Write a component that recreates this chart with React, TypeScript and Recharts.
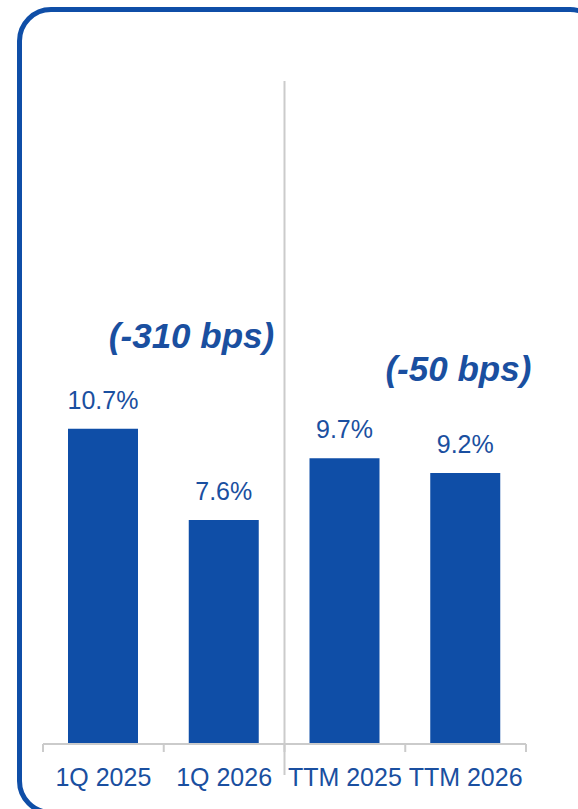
import { BarChart, Bar, XAxis, YAxis, LabelList, ReferenceLine, ReferenceDot, Label } from 'recharts';

const categories = ['1Q 2025', '1Q 2026', 'TTM 2025', 'TTM 2026'];
const margins = [10.7, 7.6, 9.7, 9.2];
const changeLabels = ['(-310 bps)', '(-50 bps)'];
// where the change notes sit, in chart units (band index, percent)
const changeX = [1.23, 3.44];
const changeY = [13.85, 12.75];
const groupEdges = [0, 1, 2, 3, 4];

const data = categories.map((name, i) => ({ name, pos: i + 0.5, value: margins[i] }));

const BLUE = '#0F4EA7';
const TEXT_BLUE = '#1A4FA0';
const GRAY = '#CBCBCB';
const FONT = '"Liberation Sans", Arial, sans-serif';

export default function App() {
  return (
    <div style={{ position: 'absolute', left: 0, top: 0, width: 578, height: 809, overflow: 'hidden', background: '#fff' }}>
      <div
        style={{
          position: 'absolute',
          left: 17,
          top: 7,
          width: 587,
          height: 808,
          boxSizing: 'border-box',
          border: `5px solid ${BLUE}`,
          borderRadius: 34,
        }}
      />
      <div style={{ position: 'absolute', left: 0, top: 0 }}>
        <BarChart width={578} height={809} data={data} margin={{ top: 81, right: 52, left: 43, bottom: 24 }}>
          <XAxis
            xAxisId="bounds"
            dataKey="pos"
            type="number"
            domain={[0, 4]}
            allowDataOverflow
            ticks={groupEdges}
            height={1}
            tickSize={8}
            stroke={GRAY}
            axisLine={{ stroke: GRAY, strokeWidth: 2 }}
            tickLine={{ stroke: GRAY, strokeWidth: 2 }}
            tickFormatter={() => ''}
          />
          <XAxis
            xAxisId="cat"
            dataKey="name"
            height={40}
            axisLine={false}
            tickLine={false}
            tickSize={8}
            tickMargin={15}
            tick={{ fill: TEXT_BLUE, fontSize: 25, fontFamily: FONT }}
          />
          <YAxis hide domain={[0, 22.5]} />
          <ReferenceLine
            xAxisId="bounds"
            segment={[{ x: 2, y: -1.05 }, { x: 2, y: 22.5 }]}
            stroke={GRAY}
            strokeWidth={2}
            ifOverflow="visible"
          />
          <Bar xAxisId="cat" dataKey="value" fill={BLUE} barSize={70} isAnimationActive={false}>
            <LabelList
              dataKey="value"
              position="top"
              offset={20}
              formatter={(v: any) => `${v}%`}
              fill={TEXT_BLUE}
              fontSize={25}
              fontFamily={FONT}
            />
          </Bar>
          {changeLabels.map((t, i) => (
            <ReferenceDot
              key={t}
              xAxisId="bounds"
              x={changeX[i]}
              y={changeY[i]}
              r={0}
              ifOverflow="visible"
            >
              <Label
                value={t}
                position="center"
                fill={TEXT_BLUE}
                fontSize={35}
                fontWeight="bold"
                fontStyle="italic"
                fontFamily={FONT}
              />
            </ReferenceDot>
          ))}
        </BarChart>
      </div>
    </div>
  );
}
